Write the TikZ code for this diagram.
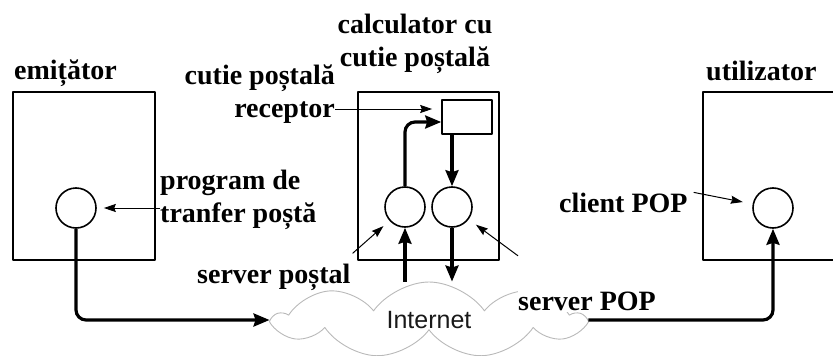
\documentclass[tikz,border=0pt]{standalone}
\usepackage{fontspec}
\setmainfont{Liberation Serif}
\setsansfont{Liberation Sans}
\usetikzlibrary{arrows.meta,shapes.symbols}

\tikzset{
  lbl/.style={font=\fontsize{28}{33}\selectfont\bfseries, inner sep=0pt},
  host/.style={draw, line width=2pt},
  proc/.style={draw, circle, line width=1.6pt, minimum size=40pt, inner sep=0pt},
  flow/.style={line width=3.2pt, rounded corners=10pt, -{Stealth[length=16pt,width=13pt,inset=2pt]}},
  ptr/.style={line width=1pt, -{Stealth[length=12pt,width=8pt,inset=1.5pt]}},
}

\begin{document}
\begin{tikzpicture}[x=1pt,y=-1pt,line join=round]
\useasboundingbox (0,0) rectangle (833,356);
% the three machines
\draw[host] (13,92) rectangle (155,260);
\draw[host] (358,92) rectangle (499,260);
\draw[host] (703,92) rectangle (845,260);
\node[proc] (ecirc) at (76,208) {};
\node[proc] (lcirc) at (405,207) {};
\node[proc] (rcirc) at (452,207) {};
\node[proc] (ucirc) at (773,208) {};
\node[draw, line width=1.6pt, minimum width=50pt, minimum height=34pt, inner sep=0pt] (mbox) at (467,117) {};
% network
\node[cloud, draw=gray!55, line width=0.9pt, cloud puffs=9, cloud puff arc=110, cloud ignores aspect,
  minimum width=308pt, minimum height=76pt, inner sep=0pt,
  font=\fontsize{25}{25}\selectfont\sffamily, text=black!90] (inet) at (429,320) {Internet};
% labels
\node[lbl, anchor=base west] (emt) at (14,79) {emițător};
\node[lbl, anchor=base, align=center] (calc) at (415,66) {calculator cu\\cutie poștală};
\node[lbl, anchor=base west] (util) at (706,80) {utilizator};
\node[lbl, anchor=base east, align=right] (recv) at (335,117) {cutie poștală\\receptor};
\node[lbl, anchor=base west, align=left] (prog) at (160,222) {program de\\tranfer poștă};
\node[lbl, anchor=base west] (spost) at (197,283) {server poștal};
\node[lbl, anchor=base west, fill=white, text height=60pt, text depth=2pt] (spop) at (518,310) {server POP};
\node[lbl, anchor=base west] (cpop) at (559,212) {client POP};
% mail flow
\draw[flow] (ecirc.south) |- (inet.west);
\draw[flow] (lcirc |- inet.north) -- (lcirc.south);
\draw[flow] (rcirc.south) -- (rcirc |- inet.north);
\draw[flow] (lcirc.north) |- ([yshift=-5pt]mbox.west);
\draw[flow] (mbox.south -| rcirc) -- (rcirc.north);
\draw[flow] (inet.east) -| (ucirc.south);
% pointers
\draw[ptr, shorten >=7pt] (prog.west |- ecirc) -- (ecirc.east);
\draw[ptr, shorten >=9pt] ([yshift=8pt]mbox.west -| recv.east) -- ([yshift=8pt]mbox.west);
\draw[ptr, shorten >=8pt] ([shift={(2pt,10pt)}]spost.north east) -- (lcirc);
\draw[ptr, shorten >=9pt] ([yshift=-6pt]spop.north west) -- (rcirc);
\draw[ptr, shorten >=10pt] ([xshift=6pt]cpop.north east) -- (ucirc);
\end{tikzpicture}
\end{document}
